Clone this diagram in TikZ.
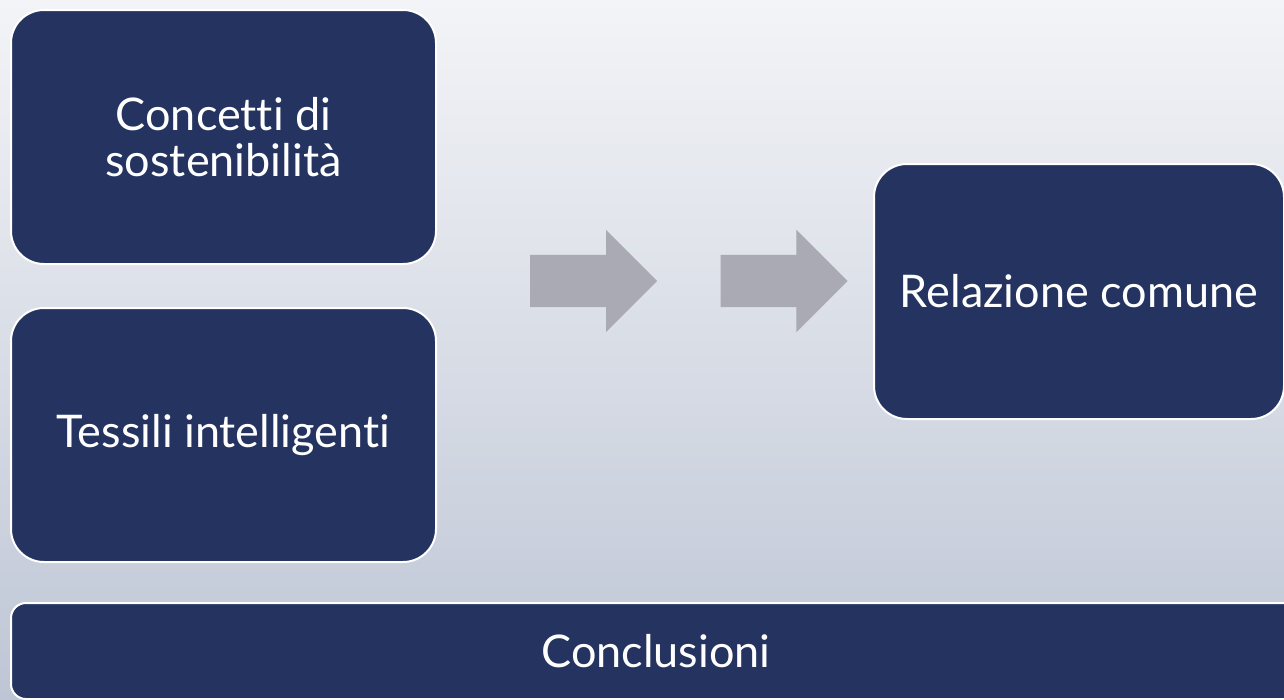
\documentclass[tikz,border=0pt]{standalone}
\usepackage{fontspec}
\setmainfont[Ligatures=NoCommon]{Lato}
\usetikzlibrary{positioning,shapes.arrows}
\definecolor{navy}{RGB}{36,51,96}
\definecolor{arrowgray}{RGB}{169,170,179}
\definecolor{bgtop}{RGB}{243,244,247}
\definecolor{bgbot}{RGB}{190,198,213}

\begin{document}
\begin{tikzpicture}[
  x=1pt, y=-1pt,
  font=\fontsize{45}{46}\selectfont,
  box/.style={draw=white, line width=2pt, fill=navy, text=white, align=center, rounded corners=33pt, inner sep=0pt},
  topic/.style={box, minimum width=425pt, minimum height=254pt},
  flow/.style={single arrow, fill=arrowgray, draw=none, inner xsep=0pt, inner ysep=26pt, minimum height=127pt, single arrow head extend=25pt, single arrow tip angle=90, anchor=tail},
]
\useasboundingbox (0,0) rectangle (1284,699);
\clip (0,0) rectangle (1284,699);
\shade[top color=bgtop, bottom color=bgbot] (0,0) rectangle (1284,699);

% two topics on the left
\node[topic, anchor=north west] (concetti) at (10,9) {Concetti di\\sostenibilità};
\node[topic, below=42pt of concetti] (tessili) {Tessili intelligenti};

% block arrows
\node[flow] (step1) at (530,281) {};
\node[flow, right=63pt of step1.tip, anchor=tail] (step2) {};

\node[box, minimum width=410pt, minimum height=255pt, anchor=north west] (relazione) at (873,163) {Relazione comune};

% bottom band
\node[box, rounded corners=15pt, minimum width=1290pt, minimum height=96pt, anchor=north west] (conclusioni) at (10,602) {Conclusioni};
\end{tikzpicture}
\end{document}
